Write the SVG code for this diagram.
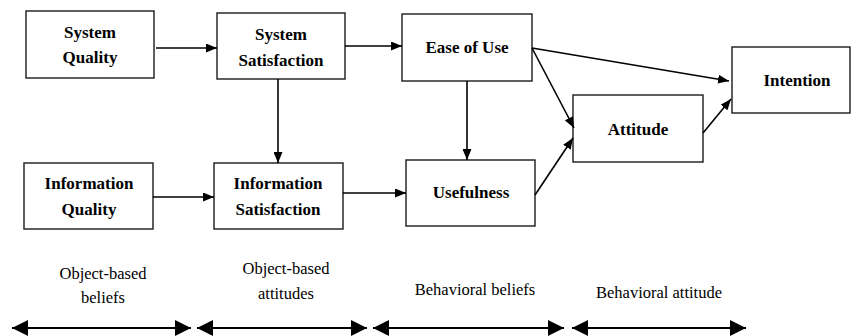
<svg xmlns="http://www.w3.org/2000/svg" width="851" height="336" viewBox="0 0 851 336">
  <style>
    .box { fill: #ffffff; stroke: #1a1a1a; stroke-width: 1.4; }
    .lbl { font-family: 'Liberation Serif', 'Times New Roman', serif; font-size: 17px; font-weight: bold; text-anchor: middle; fill: #000; }
    .cap { font-family: 'Liberation Serif', 'Times New Roman', serif; font-size: 16.5px; text-anchor: middle; fill: #000; }
    .link { stroke: #000; stroke-width: 1.6; fill: none; marker-end: url(#arr); }
    .span { stroke: #000; stroke-width: 2; fill: none; marker-start: url(#big); marker-end: url(#big); }
  </style>
  <defs>
    <marker id="arr" markerUnits="userSpaceOnUse" markerWidth="11" markerHeight="9" refX="11" refY="4.5" orient="auto">
      <path d="M0,0 L11,4.5 L0,9 z" fill="#000"/>
    </marker>
    <marker id="big" markerUnits="userSpaceOnUse" markerWidth="16" markerHeight="16" refX="16" refY="8" orient="auto-start-reverse">
      <path d="M0,0 L16,8 L0,16 z" fill="#000"/>
    </marker>
  </defs>

  <rect width="851" height="336" fill="#ffffff"/>

  <g id="system-quality">
    <rect class="box" x="26" y="11" width="128" height="67"/>
    <text class="lbl" x="90" y="38">System</text>
    <text class="lbl" x="90" y="63">Quality</text>
  </g>
  <g id="system-satisfaction">
    <rect class="box" x="217" y="13" width="128" height="66"/>
    <text class="lbl" x="281" y="40">System</text>
    <text class="lbl" x="281" y="66">Satisfaction</text>
  </g>
  <g id="ease-of-use">
    <rect class="box" x="402" y="14" width="130" height="67"/>
    <text class="lbl" x="467" y="53">Ease of Use</text>
  </g>
  <g id="intention">
    <rect class="box" x="732" y="47" width="118" height="66"/>
    <text class="lbl" x="797" y="86">Intention</text>
  </g>
  <g id="attitude">
    <rect class="box" x="573" y="95" width="130" height="67"/>
    <text class="lbl" x="638" y="135">Attitude</text>
  </g>
  <g id="information-quality">
    <rect class="box" x="24" y="163" width="129" height="66"/>
    <text class="lbl" x="89" y="189">Information</text>
    <text class="lbl" x="89" y="215">Quality</text>
  </g>
  <g id="information-satisfaction">
    <rect class="box" x="214" y="163" width="129" height="66"/>
    <text class="lbl" x="278" y="189">Information</text>
    <text class="lbl" x="278" y="215">Satisfaction</text>
  </g>
  <g id="usefulness">
    <rect class="box" x="406" y="160" width="129" height="66"/>
    <text class="lbl" x="471" y="198">Usefulness</text>
  </g>

  <g id="connectors">
    <line class="link" x1="156" y1="48" x2="217" y2="48"/>
    <line class="link" x1="345" y1="46" x2="402" y2="46"/>
    <line class="link" x1="278" y1="79" x2="278" y2="163"/>
    <line class="link" x1="467" y1="81" x2="467" y2="160"/>
    <line class="link" x1="153" y1="197" x2="214" y2="197"/>
    <line class="link" x1="343" y1="193" x2="406" y2="193"/>
    <line class="link" x1="532" y1="48" x2="729" y2="81"/>
    <line class="link" x1="532" y1="48" x2="574" y2="128"/>
    <line class="link" x1="535" y1="195" x2="573" y2="138"/>
    <line class="link" x1="703" y1="133" x2="731" y2="99"/>
  </g>

  <g id="stages">
    <text class="cap" x="103" y="279">Object-based</text>
    <text class="cap" x="103" y="303">beliefs</text>
    <text class="cap" x="286" y="274">Object-based</text>
    <text class="cap" x="286" y="299">attitudes</text>
    <text class="cap" x="475" y="295">Behavioral beliefs</text>
    <text class="cap" x="659" y="298">Behavioral attitude</text>
    <line class="span" x1="12" y1="328" x2="191" y2="328"/>
    <line class="span" x1="197" y1="328" x2="367" y2="328"/>
    <line class="span" x1="373" y1="328" x2="564" y2="328"/>
    <line class="span" x1="572" y1="328" x2="746" y2="328"/>
  </g>
</svg>
